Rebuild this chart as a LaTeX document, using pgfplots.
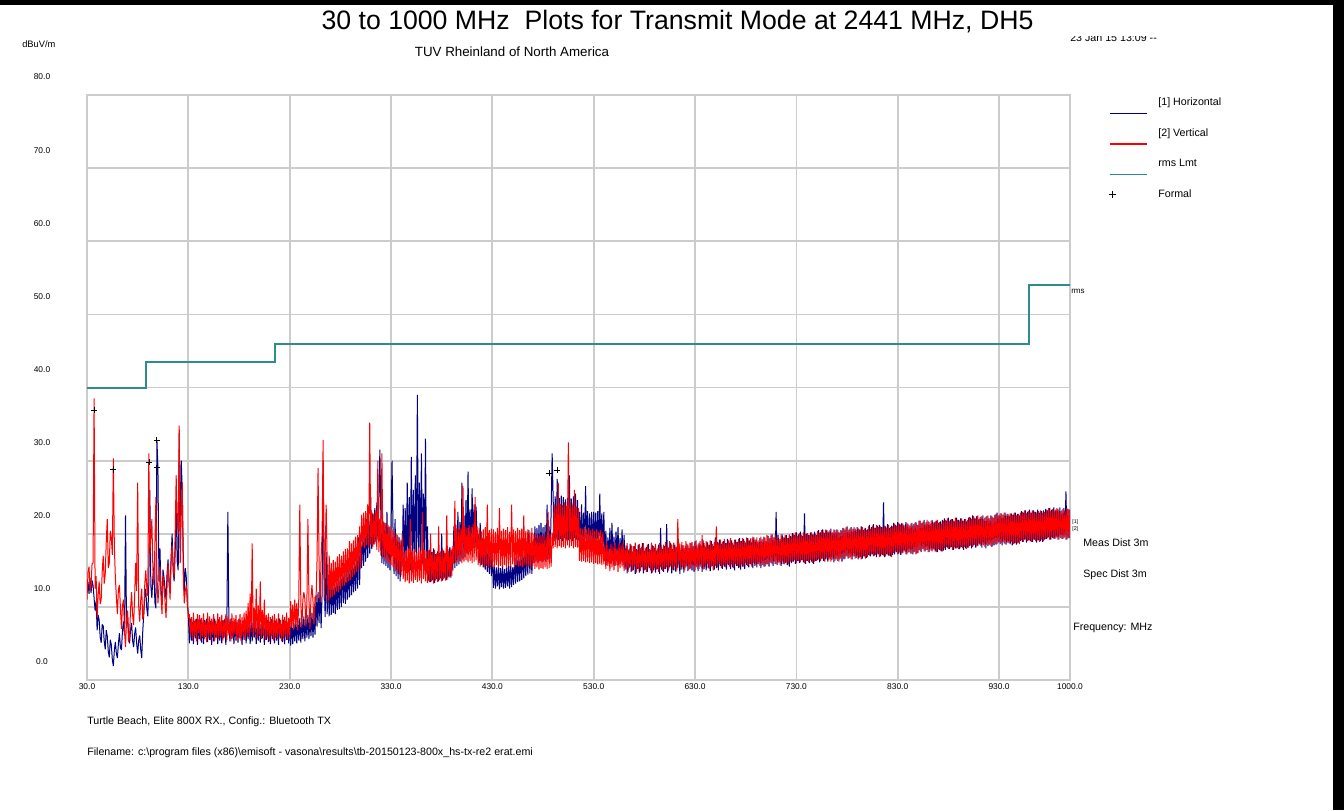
\documentclass[border=0pt]{standalone}
\usepackage{pgfplots}
\usepackage{pgfplotstable}
\pgfplotsset{compat=1.18}
\usepackage{fontspec}
\setmainfont{Liberation Sans}
\definecolor{hcol}{RGB}{0,0,128}
\definecolor{vcol}{RGB}{255,0,0}
\definecolor{lcol}{RGB}{45,140,140}
\definecolor{gridc}{RGB}{204,204,204}
\pgfplotsset{
 mylegline/.style={legend image code/.code={\path[draw=none,fill=none] (0pt,6pt) rectangle (27.75pt,-9pt); \draw[##1,line width=1pt] (0pt,-7.9pt) -- (27.75pt,-7.9pt);}},
 mylegmark/.style={legend image code/.code={\path[draw=none,fill=none] (0pt,6pt) rectangle (27.75pt,-9pt); \draw[##1] plot coordinates {(2.25pt,0pt)};}}
}
\pgfplotstableread{
f h v
30 12.5 11.0
31 13.4 14.8
32 11.8 15.5
33 14.0 12.2
34 11.9 13.0
35 13.6 15.9
36 12.9 16.0
37 11.2 38.5
38 9.5 12.5
39 10.8 14.2
40 6.8 8.5
41 8.9 11.6
42 8.2 13.5
43 5.9 10.4
44 5.1 11.0
45 7.6 14.8
46 7.4 17.0
47 5.3 13.2
48 4.2 14.5
49 6.8 18.9
50 6.0 22.0
51 3.9 15.3
52 3.1 16.0
53 5.5 20.4
54 4.8 19.5
55 2.8 17.1
56 1.9 30.3
57 4.1 18.2
58 5.2 14.0
59 3.6 11.3
60 3.0 9.0
61 5.0 12.4
62 6.4 13.0
63 4.4 9.8
64 4.1 7.0
65 6.7 10.2
66 8.0 11.0
67 6.1 6.8
68 22.5 4.5
69 7.3 8.1
70 9.1 9.5
71 6.2 5.2
72 5.0 6.0
73 6.9 9.8
74 7.8 12.0
75 5.4 8.9
76 4.5 7.5
77 6.3 11.4
78 7.2 16.0
79 5.0 12.2
80 3.6 27.0
81 5.4 10.1
82 6.1 8.0
83 4.2 10.9
84 3.0 12.5
85 6.6 8.3
86 9.0 9.0
87 11.4 13.1
88 12.5 15.0
89 9.8 12.6
90 8.7 11.5
91 13.2 31.0
92 26.0 17.0
93 12.9 19.5
94 11.2 22.0
95 14.1 15.2
96 15.5 13.0
97 10.6 18.4
98 9.8 25.0
99 32.8 14.6
100 29.0 10.5
101 13.5 12.8
102 18.0 15.5
103 12.2 11.6
104 10.5 9.0
105 15.1 14.2
106 14.0 13.0
107 12.4 10.7
108 11.0 8.5
109 14.6 12.9
110 16.5 16.0
111 13.1 13.8
112 12.0 11.0
113 16.8 16.4
114 20.0 18.5
115 14.9 15.7
116 13.5 14.0
117 17.4 19.9
118 24.0 28.0
119 16.2 21.6
120 15.0 20.0
121 33.8 34.8
122 18.0 16.0
123 30.0 22.5
124 26.0 27.0
125 17.2 14.1
126 12.0 10.5
127 15.3 12.2
128 14.0 13.0
129 10.4 11.1
130 9.0 8.5
131 5.0 9.0
132 8.4 6.2
133 5.4 8.6
134 7.9 5.4
135 4.9 9.2
136 8.1 6.0
137 5.7 8.3
138 8.4 5.3
139 4.8 9.0
140 7.6 6.4
141 5.6 8.9
142 8.3 5.4
143 5.1 8.5
144 7.8 5.9
145 4.9 9.1
146 8.2 5.6
147 5.9 8.0
148 8.4 5.2
149 5.2 9.2
150 7.5 6.1
151 5.5 8.7
152 8.1 5.5
153 4.8 8.4
154 7.9 6.2
155 5.3 9.0
156 8.4 5.3
157 5.8 8.1
158 7.7 5.8
159 4.9 9.1
160 8.3 5.6
161 5.4 8.6
162 7.6 6.0
163 5.0 8.9
164 8.2 5.4
165 5.7 8.2
166 8.4 5.9
167 4.8 9.0
168 7.7 5.5
169 23.0 8.7
170 8.1 6.1
171 5.3 8.3
172 8.4 5.3
173 5.6 9.1
174 7.6 5.8
175 4.9 8.5
176 8.2 6.2
177 5.4 8.9
178 7.9 5.4
179 5.1 8.2
180 8.4 5.7
181 5.7 9.0
182 7.7 5.3
183 4.8 8.6
184 8.1 6.0
185 5.5 9.2
186 8.3 5.5
187 5.0 9.5
188 7.6 6.0
189 5.6 10.5
190 8.2 5.8
191 4.9 11.8
192 8.0 6.6
193 5.3 18.7
194 8.4 5.9
195 5.8 9.9
196 7.7 6.4
197 4.9 12.5
198 8.1 5.7
199 5.4 10.2
200 8.3 6.2
201 5.1 13.5
202 7.8 5.6
203 5.7 9.6
204 8.4 6.1
205 4.8 11.0
206 7.6 5.5
207 5.5 8.9
208 8.2 5.9
209 5.2 9.1
210 7.9 5.3
211 4.9 8.6
212 8.3 6.0
213 5.6 8.8
214 7.7 5.4
215 5.0 9.0
216 8.1 5.8
217 5.4 8.4
218 7.8 5.6
219 4.8 9.1
220 8.4 6.1
221 5.7 8.2
222 7.6 5.3
223 5.2 8.9
224 8.2 5.7
225 4.9 8.6
226 8.0 6.0
227 5.5 9.2
228 7.7 5.5
229 5.0 8.5
230 8.3 5.9
231 4.7 10.8
232 8.0 7.2
233 4.9 10.3
234 7.8 6.9
235 5.3 11.0
236 8.4 7.5
237 5.0 10.5
238 8.1 6.8
239 5.4 11.2
240 8.5 24.0
241 5.1 10.6
242 8.3 7.1
243 5.6 10.9
244 8.7 12.0
245 5.3 11.1
246 8.4 7.3
247 5.8 10.7
248 8.9 22.0
249 5.6 11.0
250 8.6 7.0
251 6.0 11.2
252 9.2 13.0
253 5.8 10.8
254 8.9 7.6
255 6.2 11.4
256 11.6 10.9
257 7.3 16.4
258 12.0 29.0
259 7.8 16.0
260 13.0 10.7
261 7.1 16.8
262 11.9 20.0
263 30.0 32.8
264 14.3 11.0
265 8.6 16.9
266 17.5 24.0
267 9.0 16.2
268 14.0 10.6
269 8.7 17.0
270 14.6 11.2
271 8.9 16.0
272 13.4 11.4
273 9.2 16.4
274 13.9 11.6
275 9.0 16.2
276 14.1 12.1
277 9.6 16.9
278 14.3 12.0
279 9.7 17.2
280 14.5 12.4
281 10.0 17.0
282 16.0 12.8
283 10.5 17.6
284 15.0 12.9
285 10.4 17.9
286 15.4 13.3
287 11.0 18.0
288 15.7 13.5
289 11.3 19.0
290 17.0 13.7
291 11.6 18.7
292 16.2 14.1
293 12.0 19.1
294 16.7 14.4
295 12.2 19.6
296 17.1 14.8
297 12.5 19.8
298 19.5 15.1
299 13.0 21.0
300 18.6 15.5
301 15.3 22.6
302 20.5 18.3
303 15.6 22.9
304 21.0 18.0
305 16.2 23.1
306 22.0 18.4
307 16.7 24.0
308 21.8 18.1
309 17.3 35.2
310 25.0 18.5
311 17.9 23.0
312 22.8 18.2
313 18.5 22.7
314 23.5 18.6
315 18.9 23.2
316 24.3 17.8
317 19.2 30.0
318 24.0 17.5
319 31.5 22.1
320 22.0 17.0
321 16.0 31.0
322 21.8 16.8
323 15.8 21.6
324 21.5 16.5
325 15.6 21.5
326 23.0 16.2
327 15.3 21.2
328 20.9 16.0
329 15.0 21.0
330 20.7 15.7
331 30.0 20.6
332 20.4 15.4
333 14.5 20.4
334 22.0 15.1
335 14.2 20.0
336 19.8 14.8
337 13.8 19.6
338 19.5 14.5
339 13.5 19.0
340 19.2 14.3
341 15.5 20.0
342 24.0 13.8
343 15.2 17.5
344 23.5 13.4
345 14.8 17.8
346 27.0 13.6
347 15.6 18.0
348 25.0 13.2
349 15.0 22.0
350 30.5 13.5
351 16.0 17.7
352 26.0 13.3
353 15.4 17.9
354 28.0 13.7
355 16.2 17.4
356 39.0 13.4
357 15.8 18.1
358 27.0 13.6
359 16.5 17.6
360 31.0 13.2
361 15.9 23.0
362 25.5 13.8
363 15.4 17.8
364 33.0 13.5
365 15.0 17.6
366 21.0 13.3
367 13.6 17.7
368 17.8 13.4
369 13.4 20.0
370 17.5 13.5
371 13.7 17.5
372 18.0 13.2
373 13.3 17.8
374 17.2 13.6
375 13.8 17.3
376 17.6 13.4
377 13.5 21.0
378 17.4 13.7
379 13.9 17.6
380 20.0 13.5
381 13.6 17.9
382 17.7 13.8
383 14.0 17.4
384 17.3 13.6
385 13.7 22.5
386 17.9 13.9
387 14.1 17.7
388 18.2 14.0
389 14.0 18.0
390 17.8 14.2
391 15.0 18.3
392 21.0 15.9
393 15.3 24.5
394 21.2 16.0
395 15.6 20.8
396 23.0 16.1
397 15.8 21.0
398 21.6 16.3
399 16.2 20.7
400 27.0 16.0
401 16.5 26.5
402 22.5 16.2
403 16.8 21.0
404 24.6 16.4
405 17.2 20.8
406 28.5 16.1
407 17.5 21.2
408 23.3 16.3
409 17.8 20.9
410 26.2 16.0
411 18.0 21.3
412 24.0 16.2
413 18.1 25.0
414 23.7 16.4
415 18.0 21.0
416 20.0 15.7
417 16.0 20.8
418 21.5 15.5
419 15.7 20.4
420 19.4 15.8
421 15.4 20.6
422 19.0 15.4
423 15.1 20.9
424 18.7 15.6
425 14.8 24.0
426 18.3 15.3
427 14.5 20.5
428 18.0 15.5
429 14.2 20.7
430 17.7 15.4
431 12.6 20.6
432 15.5 15.5
433 12.5 20.3
434 15.4 15.7
435 12.8 20.8
436 15.5 15.3
437 12.4 23.5
438 15.3 15.6
439 12.7 20.4
440 15.6 15.4
441 12.5 20.7
442 15.2 15.7
443 12.6 20.5
444 15.4 15.4
445 12.8 20.9
446 15.6 15.6
447 12.5 20.3
448 16.0 15.5
449 12.7 24.0
450 15.4 15.8
451 13.0 20.6
452 17.0 15.4
453 13.2 20.4
454 17.5 15.7
455 13.4 20.8
456 17.2 15.5
457 13.5 20.5
458 17.4 15.6
459 13.7 20.7
460 18.0 15.4
461 13.9 22.5
462 17.8 15.7
463 14.2 20.4
464 18.0 15.5
465 14.4 20.6
466 20.5 15.6
467 14.6 20.3
468 18.4 15.3
469 14.5 20.8
470 18.6 15.6
471 16.0 19.9
472 21.0 15.2
473 16.2 20.0
474 20.8 15.4
475 16.0 19.6
476 21.2 15.1
477 16.3 19.8
478 21.5 15.3
479 16.1 19.7
480 20.9 15.2
481 16.4 20.0
482 21.2 15.4
483 16.2 19.5
484 24.0 15.2
485 16.5 23.0
486 21.0 15.3
487 16.6 19.9
488 23.1 15.5
489 31.0 20.2
490 24.8 18.0
491 19.0 24.0
492 25.1 18.2
493 19.2 23.8
494 27.5 18.0
495 19.1 27.0
496 24.9 18.3
497 19.3 24.1
498 25.2 18.1
499 19.0 23.9
500 25.0 18.2
501 19.4 24.3
502 24.7 18.0
503 19.2 23.8
504 24.9 18.4
505 19.1 32.5
506 28.0 18.1
507 19.3 24.2
508 24.8 18.3
509 19.0 23.9
510 25.1 18.0
511 19.4 26.0
512 25.5 18.2
513 19.2 23.7
514 24.6 18.1
515 19.1 23.5
516 23.0 16.3
517 18.0 20.8
518 24.0 16.2
519 18.1 20.7
520 22.9 16.3
521 18.0 20.9
522 26.5 16.1
523 18.2 20.6
524 23.1 16.2
525 18.0 20.8
526 22.8 16.0
527 18.1 20.5
528 23.0 16.1
529 17.9 20.7
530 23.0 15.9
531 18.0 20.4
532 22.9 16.0
533 18.1 20.6
534 23.1 15.8
535 18.0 20.3
536 25.5 15.9
537 17.9 20.5
538 22.8 15.7
539 18.0 20.2
540 23.0 15.8
541 16.3 18.4
542 20.4 15.2
543 15.7 18.9
544 19.5 15.6
545 16.6 17.9
546 20.8 14.9
547 15.9 18.6
548 21.5 15.4
549 16.4 18.2
550 19.6 15.0
551 15.6 18.8
552 20.3 15.7
553 16.8 18.0
554 20.9 14.8
555 15.8 18.7
556 19.4 15.3
557 16.2 18.4
558 20.6 15.5
559 15.7 18.9
560 19.8 14.9
561 15.1 18.1
562 18.4 15.3
563 14.6 18.7
564 17.8 14.8
565 15.3 17.9
566 18.6 15.5
567 14.8 18.5
568 17.6 14.9
569 15.0 18.3
570 18.3 15.6
571 14.5 18.8
572 17.9 14.7
573 15.2 17.8
574 18.5 15.2
575 14.7 18.6
576 18.0 14.9
577 15.4 18.2
578 18.7 15.4
579 14.6 18.7
580 17.7 15.0
581 15.1 18.0
582 18.2 14.8
583 14.8 18.5
584 18.6 15.5
585 15.3 17.9
586 17.8 15.0
587 14.6 18.8
588 18.4 14.7
589 15.0 18.3
590 18.1 15.3
591 14.7 18.6
592 17.7 15.1
593 15.2 18.0
594 18.5 14.8
595 14.5 18.7
596 20.8 15.4
597 15.1 18.2
598 17.9 14.9
599 14.8 18.5
600 18.3 15.2
601 15.2 18.9
602 21.3 15.4
603 14.7 18.3
604 18.1 15.0
605 15.4 19.0
606 18.7 15.6
607 14.6 18.5
608 17.9 15.1
609 15.0 18.8
610 18.5 15.5
611 14.8 18.2
612 18.2 15.0
613 15.3 22.0
614 18.8 15.7
615 14.5 18.6
616 17.8 15.2
617 15.1 18.9
618 18.4 15.4
619 14.7 18.4
620 18.0 15.0
621 15.4 19.0
622 18.6 15.6
623 14.9 18.5
624 18.1 15.1
625 15.2 18.8
626 18.7 15.3
627 15.0 18.9
628 18.3 15.6
629 14.8 18.4
630 19.0 15.0
631 15.4 19.1
632 18.1 15.5
633 14.9 18.6
634 18.8 15.2
635 15.5 19.0
636 18.4 15.7
637 14.8 19.8
638 19.1 15.1
639 15.2 18.7
640 18.2 15.4
641 15.0 19.0
642 18.9 15.8
643 15.3 18.5
644 18.5 15.2
645 14.9 19.1
646 19.0 15.5
647 15.6 18.6
648 18.3 15.0
649 15.1 18.9
650 19.5 15.6
651 15.3 21.0
652 18.9 15.4
653 15.0 18.8
654 19.2 15.9
655 15.6 19.2
656 18.6 15.3
657 15.2 18.9
658 19.0 15.7
659 15.5 19.3
660 18.7 15.4
661 15.1 18.7
662 19.3 15.9
663 15.7 19.1
664 18.8 15.5
665 15.2 19.4
666 19.1 15.8
667 15.4 18.8
668 18.5 15.3
669 15.0 19.2
670 19.2 15.9
671 15.6 18.9
672 18.9 15.6
673 15.3 19.3
674 19.4 15.4
675 15.1 19.0
676 19.0 15.8
677 15.5 19.4
678 19.3 15.5
679 15.2 19.0
680 18.8 16.0
681 15.7 19.5
682 19.4 15.6
683 15.4 19.1
684 19.1 15.9
685 15.8 19.4
686 18.9 15.5
687 15.3 19.6
688 19.5 16.0
689 15.6 19.2
690 19.2 15.7
691 15.4 19.5
692 18.9 15.9
693 15.8 19.1
694 19.4 15.6
695 15.3 19.6
696 19.1 16.0
697 15.7 19.3
698 19.6 15.5
699 15.5 19.5
700 19.0 15.9
701 15.8 19.8
702 19.7 15.9
703 15.5 19.4
704 19.4 16.1
705 16.0 19.9
706 19.9 15.8
707 15.6 19.5
708 19.5 16.2
709 15.9 19.8
710 23.0 15.9
711 15.7 19.6
712 19.8 16.0
713 16.1 19.3
714 19.3 15.7
715 15.6 19.9
716 19.9 16.2
717 15.9 19.5
718 19.5 15.8
719 16.0 19.8
720 19.8 16.1
721 15.7 19.4
722 19.4 15.9
723 15.5 19.9
724 19.7 16.2
725 16.0 19.6
726 20.1 16.2
727 16.2 20.0
728 19.8 16.4
729 15.9 20.2
730 20.2 16.0
731 16.3 19.7
732 19.9 16.3
733 16.0 20.1
734 20.3 16.1
735 16.4 19.8
736 19.7 16.4
737 16.1 20.2
738 22.8 16.0
739 15.9 19.9
740 20.0 16.3
741 16.3 20.1
742 19.8 16.1
743 16.0 19.8
744 20.2 16.4
745 16.2 20.2
746 19.9 16.0
747 15.9 19.9
748 20.3 16.2
749 16.3 20.0
750 19.8 16.3
751 16.4 20.4
752 20.5 16.5
753 16.1 20.1
754 20.2 16.3
755 16.6 20.5
756 20.6 16.6
757 16.3 20.2
758 20.1 16.2
759 16.5 20.6
760 20.5 16.7
761 16.2 20.3
762 20.3 16.4
763 16.6 20.5
764 20.7 16.2
765 16.4 20.2
766 20.2 16.6
767 16.1 20.6
768 20.5 16.3
769 16.5 20.3
770 20.6 16.5
771 16.3 20.5
772 20.2 16.2
773 16.6 20.2
774 20.5 16.6
775 16.2 20.4
776 20.8 16.8
777 16.5 20.7
778 20.5 16.6
779 16.9 20.9
780 21.0 17.0
781 16.6 20.5
782 20.6 16.7
783 16.8 20.8
784 20.9 16.5
785 16.5 20.6
786 20.7 16.9
787 16.9 20.9
788 20.7 16.6
789 16.7 20.5
790 20.9 16.8
791 16.5 20.8
792 20.6 16.7
793 16.8 20.6
794 21.0 16.5
795 16.6 20.9
796 20.5 16.9
797 16.9 20.7
798 20.8 16.6
799 16.7 20.5
800 20.6 16.8
801 17.1 21.0
802 21.2 17.0
803 16.9 20.7
804 20.9 17.2
805 17.2 21.1
806 21.3 16.9
807 17.0 20.8
808 20.8 17.1
809 16.8 21.2
810 21.1 17.3
811 17.2 20.9
812 21.2 16.8
813 16.9 21.0
814 20.9 17.2
815 17.1 20.7
816 24.3 17.0
817 16.8 21.1
818 21.0 16.9
819 17.2 20.8
820 21.3 17.2
821 17.0 21.2
822 20.8 17.0
823 16.9 20.9
824 21.1 16.8
825 17.1 21.0
826 21.5 17.4
827 17.2 21.4
828 21.2 17.6
829 17.5 21.1
830 21.6 17.2
831 17.3 21.5
832 21.3 17.5
833 17.1 21.2
834 21.5 17.3
835 17.4 21.4
836 21.2 17.6
837 17.6 21.0
838 21.6 17.2
839 17.2 21.5
840 21.4 17.4
841 17.5 21.2
842 21.1 17.5
843 17.3 21.4
844 21.5 17.3
845 17.2 21.1
846 21.3 17.6
847 17.5 21.5
848 21.6 17.2
849 17.3 21.2
850 21.2 17.4
851 17.8 21.8
852 21.8 17.7
853 17.5 21.5
854 21.5 17.9
855 17.9 21.7
856 21.9 17.6
857 17.6 21.4
858 21.6 17.8
859 17.8 21.9
860 21.7 17.5
861 17.5 21.6
862 21.4 17.9
863 17.7 21.8
864 21.9 17.6
865 17.9 21.5
866 21.6 17.8
867 17.6 21.7
868 21.8 17.5
869 17.5 21.9
870 21.5 17.9
871 17.8 21.6
872 21.7 17.7
873 17.6 21.4
874 21.9 17.6
875 17.7 21.8
876 22.1 18.0
877 17.8 21.9
878 21.8 18.2
879 18.1 22.1
880 22.2 17.9
881 17.9 21.7
882 21.9 18.1
883 18.2 22.0
884 22.0 17.8
885 17.8 21.8
886 21.7 18.2
887 18.0 22.2
888 22.2 18.0
889 18.1 21.9
890 21.9 17.9
891 17.9 21.7
892 22.1 18.1
893 18.2 22.1
894 21.8 18.0
895 17.8 21.8
896 22.0 18.2
897 18.0 22.0
898 21.7 17.9
899 18.1 21.9
900 22.2 18.1
901 18.3 22.3
902 22.2 18.4
903 18.0 22.0
904 22.5 18.2
905 18.4 22.4
906 22.1 18.5
907 18.1 22.1
908 22.4 18.3
909 18.3 22.5
910 22.0 18.6
911 18.5 22.2
912 22.3 18.3
913 18.1 22.4
914 22.5 18.5
915 18.4 22.0
916 22.2 18.2
917 18.0 22.3
918 22.4 18.6
919 18.3 22.5
920 22.1 18.4
921 18.5 22.1
922 22.5 18.3
923 18.2 22.4
924 22.2 18.5
925 18.4 22.2
926 22.6 18.8
927 18.5 22.7
928 22.9 18.6
929 18.8 22.5
930 22.5 18.9
931 18.6 22.8
932 22.8 18.7
933 18.4 22.6
934 22.6 18.9
935 18.7 22.9
936 22.9 18.6
937 18.5 22.5
938 22.7 18.8
939 18.8 22.7
940 22.5 18.7
941 18.6 22.8
942 22.8 18.9
943 18.4 22.6
944 22.6 18.6
945 18.7 22.9
946 22.9 18.8
947 18.5 22.5
948 22.7 18.7
949 18.8 22.7
950 22.5 18.6
951 19.0 22.9
952 23.1 19.1
953 18.9 23.0
954 22.9 18.9
955 19.2 23.2
956 23.2 19.2
957 18.8 22.8
958 23.0 19.0
959 19.1 23.1
960 23.3 19.1
961 19.0 22.9
962 22.9 18.9
963 18.9 23.2
964 23.2 19.2
965 19.2 23.0
966 23.0 19.0
967 18.8 22.8
968 23.3 19.1
969 19.1 23.1
970 22.9 18.9
971 19.0 23.2
972 23.1 19.2
973 18.9 22.9
974 23.2 19.0
975 19.2 23.0
976 23.4 19.3
977 19.3 23.3
978 23.2 19.4
979 19.5 23.5
980 23.5 19.2
981 19.2 23.1
982 23.3 19.5
983 19.4 23.4
984 23.6 19.3
985 19.3 23.2
986 23.3 19.4
987 19.5 23.5
988 23.4 19.2
989 19.2 23.3
990 23.6 19.5
991 19.4 23.1
992 23.2 19.3
993 19.3 23.4
994 23.5 19.4
995 19.5 23.2
996 25.8 19.2
997 19.2 23.5
998 23.4 19.5
999 19.4 23.3
1000 23.3 19.4
}\spectrum
\begin{document}
\begin{tikzpicture}
\fill[white] (0,0) rectangle (1008pt,-607.5pt);
\begin{axis}[
 at={(65.25pt,-510pt)}, anchor=south west,
 scale only axis, width=737.25pt, height=438.75pt,
 xmin=30, xmax=1000, ymin=0, ymax=80,
 xtick={30,130,230,330,430,530,630,730,830,930,1000},
 xticklabels={30.0,130.0,230.0,330.0,430.0,530.0,630.0,730.0,830.0,930.0,1000.0},
 ytick={0,10,20,30,40,50,60,70,80},
 yticklabels={0.0,10.0,20.0,30.0,40.0,50.0,60.0,70.0,80.0},
 grid=major, major grid style={gridc, line width=1.3pt},
 axis line style={gridc, line width=1.3pt},
 major tick length=0pt,
 /pgf/number format/assume math mode=true,
 tick label style={font=\fontsize{6.3}{7}\selectfont},
 xticklabel style={anchor=center, yshift=-5.25pt},
 yticklabel style={anchor=center, xshift=-33.75pt, yshift=13.5pt},
 legend style={at={(1.0397,1.0)}, anchor=north west, draw=none, fill=none,
   inner sep=0pt, outer sep=0pt, font=\fontsize{8}{9.6}\selectfont,
   row sep=7.9pt, column sep=8.25pt, nodes={inner sep=0pt}},
 legend cell align=left,
]
\addplot[hcol, line width=0.75pt, line join=bevel, mylegline] table[x=f, y=h] {\spectrum};
\addlegendentry{\relax [1] Horizontal}
\addplot[vcol, line width=0.75pt, line join=bevel, mylegline] table[x=f, y=v] {\spectrum};
\addlegendentry{\relax [2] Vertical}
\addplot[lcol, line width=1.5pt, mylegline]
coordinates {(30,40)(88,40)(88,43.5)(216,43.5)(216,46)(960,46)(960,54)(1000,54)};
\addlegendentry{rms Lmt}
\addplot[only marks, mark=+, mark size=2.4pt, black, line width=0.7pt, mylegmark]
coordinates {(36.9,36.9)(55.7,28.8)(91.2,29.8)(99,32.8)(99,29.0)(485.9,28.3)(493.8,28.7)};
\addlegendentry{Formal}
\end{axis}
\begin{scope}[x=0.75pt,y=-0.75pt]
\fill[black] (0,0) rectangle (1344,5);
\fill[black] (1333,0) rectangle (1344,810);
\node[font=\fontsize{20}{24}\selectfont] at (677.5,22) {30 to 1000 MHz\ \ Plots for Transmit Mode at 2441 MHz, DH5};
\node[font=\fontsize{10}{12}\selectfont] at (512,52) {TUV Rheinland of North America};
\node[font=\fontsize{7}{8}\selectfont, anchor=west, inner sep=0pt] at (22,44) {dBuV/m};
\node[font=\fontsize{8}{9}\selectfont, anchor=base west, inner sep=0pt] at (1070,41) {23 Jan 15 13:09 -{}-};
\fill[white] (1065,5) rectangle (1170,36);
\node[font=\fontsize{6}{7}\selectfont, anchor=west, inner sep=0pt] at (1071,291) {rms};
\node[font=\fontsize{4}{4}\selectfont, anchor=west, inner sep=0pt] at (1072,522) {[1]};
\node[font=\fontsize{4}{4}\selectfont, anchor=west, inner sep=0pt] at (1072,529) {[2]};
\node[font=\fontsize{8}{9}\selectfont, anchor=west, inner sep=0pt] at (1083,543) {Meas Dist 3m};
\node[font=\fontsize{8}{9}\selectfont, anchor=west, inner sep=0pt] at (1083,575) {Spec Dist 3m};
\node[font=\fontsize{8}{9}\selectfont, anchor=west, inner sep=0pt] at (1073,628) {Frequency: MHz};
\node[font=\fontsize{8}{9}\selectfont, anchor=west, inner sep=0pt] at (87,722) {Turtle Beach, Elite 800X RX., Config.: Bluetooth TX};
\node[font=\fontsize{8}{9}\selectfont, anchor=west, inner sep=0pt] at (87,753) {Filename: c:\textbackslash program files (x86)\textbackslash emisoft - vasona\textbackslash results\textbackslash tb-20150123-800x\_hs-tx-re2 erat.emi};
\pgfresetboundingbox
\path[use as bounding box] (0,0) rectangle (1344,810);
\end{scope}
\end{tikzpicture}
\end{document}
